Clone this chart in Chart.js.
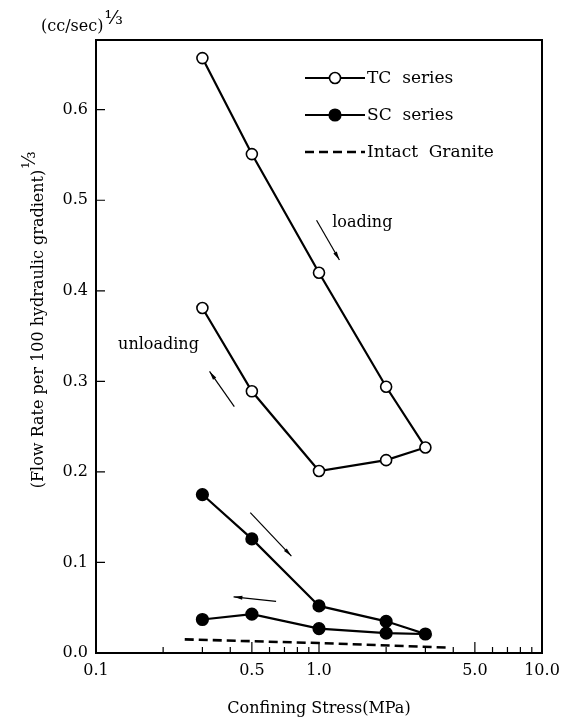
<!DOCTYPE html>
<html>
<head>
<meta charset="utf-8">
<script src="https://cdn.jsdelivr.net/npm/chart.js@4"></script>
<style>
  html, body { margin: 0; padding: 0; background: #fff; }
  #wrap { width: 563px; height: 722px; }
</style>
</head>
<body>
<div id="wrap"><canvas id="flow-chart" width="563" height="722"></canvas></div>
<script>
// Flow rate vs confining stress (log x axis)

// ---- data ----
const stressLoading = [0.3, 0.5, 1.0, 2.0, 3.0];
const stressUnloading = [3.0, 2.0, 1.0, 0.5, 0.3];
const tcLoading = [0.657, 0.551, 0.420, 0.294, 0.227];
const tcUnloading = [0.227, 0.213, 0.201, 0.289, 0.381];
const scLoading = [0.175, 0.126, 0.052, 0.035, 0.021];
const scUnloading = [0.021, 0.022, 0.027, 0.043, 0.037];
const graniteStress = [0.25, 1.0, 3.7];
const graniteFlow = [0.015, 0.011, 0.006];

const xTickValues = [0.1, 0.5, 1.0, 5.0, 10.0];
const xMinorTicks = [0.2, 0.3, 0.4, 0.6, 0.7, 0.8, 0.9, 2, 3, 4, 6, 7, 8, 9];
const yTickValues = [0.0, 0.1, 0.2, 0.3, 0.4, 0.5, 0.6];

const seriesNames = ['TC  series', 'SC  series', 'Intact  Granite'];

const FONT = '"DejaVu Serif", "Liberation Serif", serif';

function toPoints(xs, ys) {
    return xs.map((x, i) => ({ x: x, y: ys[i] }));
}

// loading then unloading, one path per series
const tcData = toPoints(stressLoading, tcLoading).concat(toPoints(stressUnloading, tcUnloading).slice(1));
const scData = toPoints(stressLoading, scLoading).concat(toPoints(stressUnloading, scUnloading).slice(1));
const graniteData = toPoints(graniteStress, graniteFlow);

// annotations: arrows and text, in data coords
const arrows = [
    { from: [0.975, 0.478], to: [1.235, 0.434] },   // TC loading
    { from: [0.417, 0.272], to: [0.323, 0.311] },   // TC unloading
    { from: [0.492, 0.155], to: [0.752, 0.107] },   // SC loading
    { from: [0.642, 0.057], to: [0.414, 0.062] },   // SC unloading
];
const notes = [
    { text: 'loading', at: [1.146, 0.475] },
    { text: 'unloading', at: [0.1256, 0.34] },
];

// ---- frame, inward ticks, legend, annotations ----
const decorPlugin = {
    id: 'decor',
    afterDraw(chart) {
        const { ctx, chartArea: a, scales } = chart;
        const xs = scales.x, ys = scales.y;
        ctx.save();
        ctx.strokeStyle = '#000';
        ctx.fillStyle = '#000';

        // frame
        ctx.lineWidth = 2;
        ctx.strokeRect(a.left, a.top, a.right - a.left, a.bottom - a.top);

        // x ticks (inward)
        ctx.lineWidth = 1.2;
        ctx.beginPath();
        xMinorTicks.forEach((v) => {
            const px = xs.getPixelForValue(v);
            ctx.moveTo(px, a.bottom);
            ctx.lineTo(px, a.bottom - 6);
        });
        xTickValues.forEach((v) => {
            const px = xs.getPixelForValue(v);
            ctx.moveTo(px, a.bottom);
            ctx.lineTo(px, a.bottom - 11);
        });
        // y ticks (inward)
        yTickValues.forEach((v) => {
            const py = ys.getPixelForValue(v);
            ctx.moveTo(a.left, py);
            ctx.lineTo(a.left + 9, py);
        });
        ctx.stroke();

        // arrows
        ctx.lineWidth = 1.2;
        arrows.forEach((ar) => {
            const x1 = xs.getPixelForValue(ar.from[0]), y1 = ys.getPixelForValue(ar.from[1]);
            const x2 = xs.getPixelForValue(ar.to[0]), y2 = ys.getPixelForValue(ar.to[1]);
            const ang = Math.atan2(y2 - y1, x2 - x1);
            ctx.beginPath();
            ctx.moveTo(x1, y1);
            ctx.lineTo(x2, y2);
            ctx.stroke();
            ctx.beginPath();
            ctx.moveTo(x2, y2);
            ctx.lineTo(x2 - 9 * Math.cos(ang - 0.22), y2 - 9 * Math.sin(ang - 0.22));
            ctx.lineTo(x2 - 9 * Math.cos(ang + 0.22), y2 - 9 * Math.sin(ang + 0.22));
            ctx.closePath();
            ctx.fill();
        });

        // notes
        ctx.font = '16px ' + FONT;
        ctx.textAlign = 'left';
        ctx.textBaseline = 'middle';
        notes.forEach((n) => {
            ctx.fillText(n.text, xs.getPixelForValue(n.at[0]), ys.getPixelForValue(n.at[1]));
        });

        // legend
        const lx0 = 305, lx1 = 365, ly0 = 78, gap = 37;
        ctx.font = '17px ' + FONT;
        chart.data.datasets.forEach((ds, i) => {
            const ly = ly0 + i * gap;
            ctx.beginPath();
            ctx.lineWidth = ds.borderWidth;
            ctx.setLineDash(ds.borderDash || []);
            ctx.moveTo(lx0, ly);
            ctx.lineTo(lx1, ly);
            ctx.stroke();
            ctx.setLineDash([]);
            if (ds.pointRadius > 0) {
                ctx.beginPath();
                ctx.arc((lx0 + lx1) / 2, ly, ds.pointRadius, 0, Math.PI * 2);
                ctx.fillStyle = ds.pointBackgroundColor;
                ctx.fill();
                ctx.lineWidth = ds.pointBorderWidth;
                ctx.stroke();
            }
            ctx.fillStyle = '#000';
            ctx.fillText(ds.label, lx1 + 2, ly + 1);
        });

        // y unit, top left
        ctx.font = '16px ' + FONT;
        ctx.textBaseline = 'alphabetic';
        ctx.fillText('(cc/sec)', 41, 31);
        const uw = ctx.measureText('(cc/sec)').width;
        ctx.font = '19px ' + FONT;
        ctx.fillText('⅓', 41 + uw + 1, 24);

        // y title, rotated
        ctx.translate(43, 320);
        ctx.rotate(-Math.PI / 2);
        ctx.font = '16px ' + FONT;
        const t = '(Flow Rate per 100 hydraulic gradient)';
        const tw = ctx.measureText(t).width;
        ctx.textAlign = 'left';
        ctx.fillText(t, -tw / 2 - 9, 0);
        ctx.font = '18px ' + FONT;
        ctx.fillText('⅓', tw / 2 - 8, -8);

        ctx.restore();
    },
};

new Chart(document.getElementById('flow-chart'), {
    type: 'line',
    data: {
        datasets: [
            {
                label: seriesNames[0],
                data: tcData,
                borderColor: '#000',
                borderWidth: 2.2,
                pointRadius: 5.5,
                pointBackgroundColor: '#fff',
                pointBorderColor: '#000',
                pointBorderWidth: 1.6,
                tension: 0,
            },
            {
                label: seriesNames[1],
                data: scData,
                borderColor: '#000',
                borderWidth: 2.2,
                pointRadius: 5.8,
                pointBackgroundColor: '#000',
                pointBorderColor: '#000',
                pointBorderWidth: 1.6,
                tension: 0,
            },
            {
                label: seriesNames[2],
                data: graniteData,
                borderColor: '#000',
                borderWidth: 2.6,
                borderDash: [9, 5],
                pointRadius: 0,
                tension: 0,
            },
        ],
    },
    options: {
        responsive: false,
        animation: false,
        layout: { padding: { left: 0, right: 21, top: 40, bottom: 0 } },
        plugins: {
            legend: { display: false },
            tooltip: { enabled: false },
            title: { display: false },
        },
        scales: {
            x: {
                type: 'logarithmic',
                min: 0.1,
                max: 10,
                grid: { display: false, drawTicks: false },
                border: { display: false },
                afterBuildTicks: (scale) => {
                    scale.ticks = xTickValues.map((v) => ({ value: v }));
                },
                afterFit: (scale) => {
                    scale.height = 69;
                    scale.paddingLeft = 0;
                    scale.paddingRight = 0;
                },
                ticks: {
                    color: '#000',
                    padding: 8,
                    font: { family: FONT, size: 16 },
                    callback: (v) => Number(v).toFixed(1),
                },
                title: {
                    display: true,
                    text: 'Confining Stress(MPa)',
                    color: '#000',
                    font: { family: FONT, size: 16 },
                    padding: { top: 14 },
                },
            },
            y: {
                min: 0,
                max: 0.677,
                grid: { display: false, drawTicks: false },
                border: { display: false },
                afterBuildTicks: (scale) => {
                    scale.ticks = yTickValues.map((v) => ({ value: v }));
                },
                afterFit: (scale) => {
                    scale.width = 96;
                    scale.paddingTop = 0;
                    scale.paddingBottom = 0;
                },
                ticks: {
                    color: '#000',
                    padding: 8,
                    font: { family: FONT, size: 16 },
                    callback: (v) => Number(v).toFixed(1),
                },
            },
        },
    },
    plugins: [decorPlugin],
});
</script>
</body>
</html>
